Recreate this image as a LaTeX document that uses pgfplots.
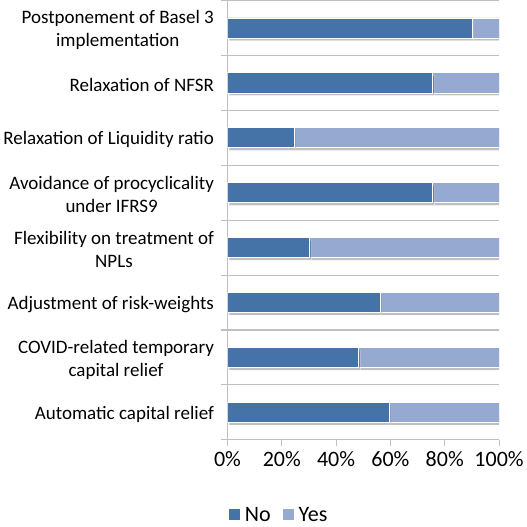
\documentclass[border=0pt]{standalone}
\usepackage{fontspec}
\setmainfont{Carlito}
\usepackage{pgfplots}
\pgfplotsset{compat=1.18}
\usetikzlibrary{shadows}
\definecolor{noc}{HTML}{4573A8}
\definecolor{yesc}{HTML}{95A9D1}
\definecolor{gridc}{HTML}{BFBFBF}
\begin{document}
\begin{tikzpicture}
\begin{axis}[
 scale only axis, width=270.6bp, height=437.7bp,
 xbar stacked, bar width=20bp,
 y dir=reverse,
 xmin=0, xmax=100, ymin=-0.5, ymax=7.5,
 axis lines*=left,
 axis line style={gridc, line width=1bp},
 xtick={0,20,...,100},
 xticklabel={\pgfmathprintnumber{\tick}\%},
 /pgf/number format/assume math mode=true,
 xticklabel style={font=\fontsize{22}{26}\selectfont, yshift=-2bp},
 tick align=outside,
 major tick length=6bp,
 minor tick length=6bp,
 ytick={0,...,7},
 yticklabels={{Postponement of Basel 3\\implementation},{Relaxation of NFSR},{Relaxation of Liquidity ratio},{Avoidance of procyclicality\\under IFRS9},{Flexibility on treatment of\\NPLs},{Adjustment of risk-weights},{COVID-related temporary\\capital relief},{Automatic capital relief}},
 major y tick style={draw=none},
 minor ytick={-0.5,0.5,...,7.5},
 yminorgrids=true,
 minor grid style={gridc, line width=1bp},
 every tick/.style={gridc, line width=1bp},
 yticklabel style={align=center, font=\fontsize{19}{23}\selectfont, xshift=-4bp, yshift=-2bp},
 legend image code/.code={\fill[#1] (0bp,-5.5bp) rectangle (11bp,5.5bp);},
 legend style={at={(0.19,-0.171)}, anchor=center, draw=none, legend columns=-1, font=\fontsize{22}{26}\selectfont, /tikz/every even column/.append style={column sep=10bp}, /tikz/every odd column/.append style={column sep=3bp}},
]
\addplot[forget plot, fill=noc, draw=white, line width=0.8bp, drop shadow={shadow xshift=1.5bp, shadow yshift=-2.5bp, fill=black, opacity=0.25}] coordinates {(90,0) (75.6,1) (24.6,2) (75.6,3) (30.3,4) (56.3,5) (48.3,6) (59.6,7)};
\addplot[forget plot, fill=yesc, draw=white, line width=0.8bp, drop shadow={shadow xshift=1.5bp, shadow yshift=-2.5bp, fill=black, opacity=0.25}] coordinates {(10,0) (24.4,1) (75.4,2) (24.4,3) (69.7,4) (43.7,5) (51.7,6) (40.4,7)};
\addlegendimage{fill=noc, draw=none}
\addlegendentry{No}
\addlegendimage{fill=yesc, draw=none}
\addlegendentry{Yes}
\end{axis}
\end{tikzpicture}
\end{document}
